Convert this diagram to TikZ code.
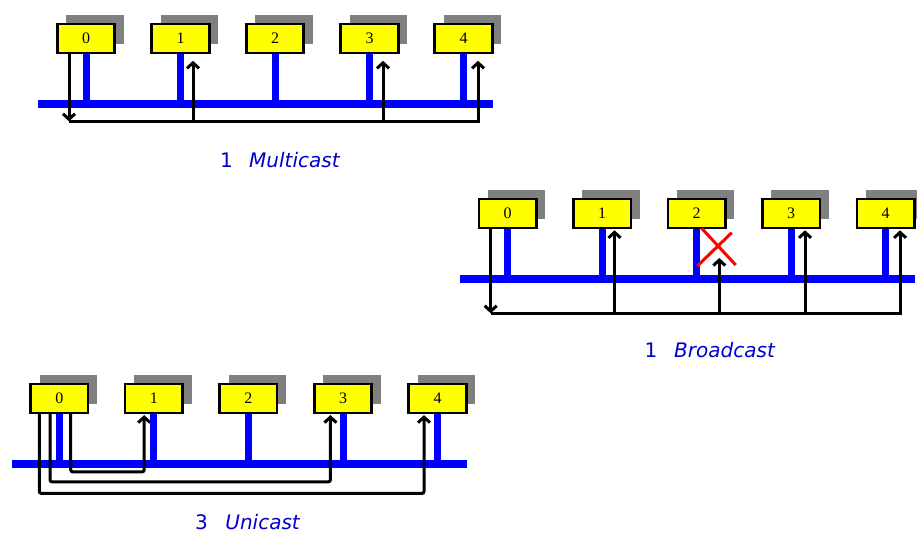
\documentclass[tikz,border=0pt]{standalone}
\usepackage{fontspec}
\setmainfont{Liberation Serif}
\newfontfamily\labelfont{DejaVu Sans}
\usetikzlibrary{arrows.meta,calc,shadows}
\definecolor{shadowgray}{RGB}{128,128,128}
\definecolor{busblue}{RGB}{0,0,255}
\definecolor{labelblue}{RGB}{0,0,204}
\definecolor{boxyellow}{RGB}{255,255,0}
\tikzset{
  station/.style={draw=black, line width=2.6pt, fill=boxyellow, minimum width=57.5pt, minimum height=29pt, inner sep=0pt,
    font=\fontsize{16}{18}\selectfont,
    general shadow={fill=shadowgray, draw=none, shadow xshift=9pt, shadow yshift=9pt}},
  bus/.style={busblue, line width=8pt},
  stub/.style={busblue, line width=7pt},
  sig/.style={black, line width=3pt},
  sigarrow/.style={sig, -{Straight Barb[length=5.5pt,width=12pt]}},
  caption/.style={labelblue, anchor=base west, inner sep=0pt, font=\labelfont\fontsize{20}{24}\selectfont},
}
\begin{document}
\begin{tikzpicture}[x=1pt,y=-1pt]
\useasboundingbox (0,0) rectangle (917,537);

% ---------------- Multicast ----------------
\coordinate (mbusL) at (38,104);
\coordinate (mbusR) at (493,104);
\foreach \i/\x in {0/86,1/180.5,2/275,3/369.5,4/463.5}
  \node[station] (m\i) at (\x,38.5) {\i};
\foreach \i in {0,...,4}
  \draw[stub] (m\i.south) -- (m\i.south |- mbusL);
\draw[bus] (mbusL) -- (mbusR);
\draw[sigarrow] ($(m0.south)+(-17,0)$) -- ($(m0.south)+(-17,67)$);
\draw[sigarrow] ($(m0.south)+(-17,67)$) -| ($(m4.south)+(14.5,6.5)$);
\draw[sigarrow] ($(m1.south)+(12.5,67)$) -- ($(m1.south)+(12.5,6.5)$);
\draw[sigarrow] ($(m3.south)+(13.5,67)$) -- ($(m3.south)+(13.5,6.5)$);
\node[caption] (mcap) at (219.8,167.5) {1\hspace{16.5pt}\textit{Multicast}};

% ---------------- Broadcast ----------------
\coordinate (bbusL) at (460,279.3);
\coordinate (bbusR) at (915,279.3);
\foreach \i/\x in {0/507.7,1/602.2,2/696.7,3/791.2,4/885.7}
  \node[station] (b\i) at (\x,213.5) {\i};
\foreach \i in {0,...,4}
  \draw[stub] (b\i.south) -- (b\i.south |- bbusL);
\draw[bus] (bbusL) -- (bbusR);
\draw[sigarrow] ($(b0.south)+(-17,0)$) -- ($(b0.south)+(-17,84)$);
\draw[sigarrow] ($(b0.south)+(-17,84)$) -| ($(b4.south)+(14.3,1)$);
\draw[sigarrow] ($(b1.south)+(12.3,84)$) -- ($(b1.south)+(12.3,1)$);
\draw[sigarrow] ($(b2.south)+(22.6,84)$) -- ($(b2.south)+(22.6,28.7)$);
\draw[sigarrow] ($(b3.south)+(13.8,84)$) -- ($(b3.south)+(13.8,1)$);
\draw[red, line width=3pt] (701.7,228.3) -- (735.7,265) (731.7,232.7) -- (697.3,266);
\node[caption] (bcap) at (644.5,357.5) {1\hspace{16.8pt}\textit{Broadcast}};

% ---------------- Unicast ----------------
\coordinate (ubusL) at (12,464.3);
\coordinate (ubusR) at (467,464.3);
\foreach \i/\x in {0/59.3,1/153.9,2/248.4,3/343,4/437.5}
  \node[station] (u\i) at (\x,398.3) {\i};
\foreach \i in {0,...,4}
  \draw[stub] (u\i.south) -- (u\i.south |- ubusL);
\draw[bus] (ubusL) -- (ubusR);
\draw[sigarrow, rounded corners=2pt] ($(u0.south)+(11.4,0)$) -- ($(u0.south)+(11.4,57.7)$) -| ($(u1.south)+(-9.7,1)$);
\draw[sigarrow, rounded corners=2pt] ($(u0.south)+(-9.3,0)$) -- ($(u0.south)+(-9.3,67.7)$) -| ($(u3.south)+(-12.6,1)$);
\draw[sigarrow, rounded corners=2pt] ($(u0.south)+(-20,0)$) -- ($(u0.south)+(-20,79.3)$) -| ($(u4.south)+(-13.5,1)$);
\node[caption] (ucap) at (195,529.5) {3\hspace{17.5pt}\textit{Unicast}};
\end{tikzpicture}
\end{document}
